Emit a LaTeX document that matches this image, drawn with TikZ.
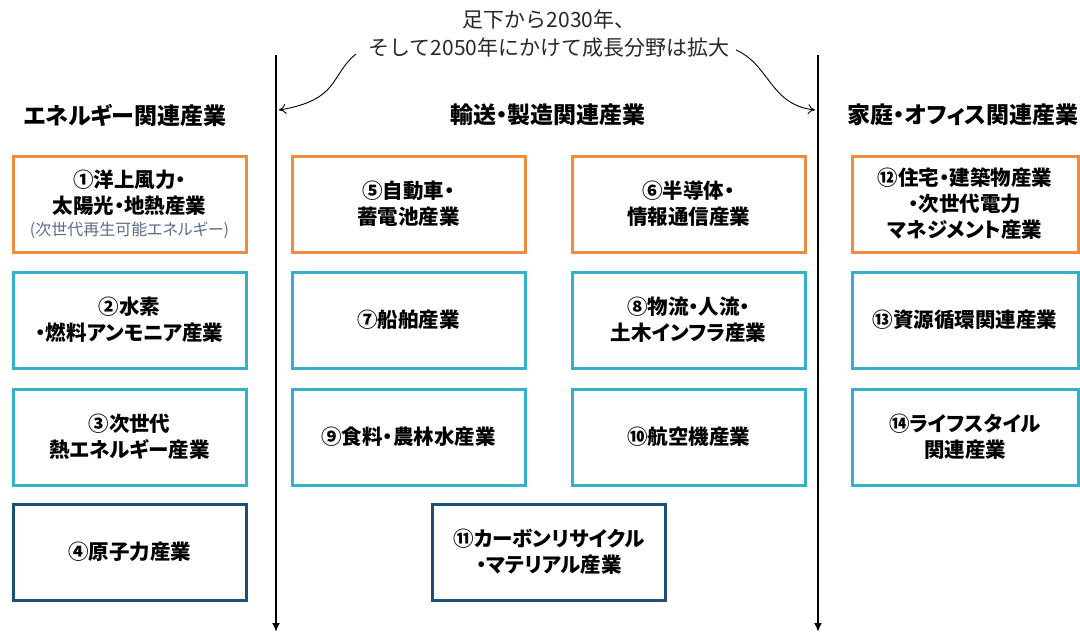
\documentclass[tikz,border=0pt]{standalone}
\usepackage{fontspec}
\setmainfont{Noto Sans CJK JP}[RawFeature=+palt]
\newfontfamily\plainjp{Noto Sans CJK JP}
\usetikzlibrary{arrows.meta}
\definecolor{cOrange}{RGB}{240,140,62}
\definecolor{cCyan}{RGB}{52,176,200}
\definecolor{cNavy}{RGB}{31,78,121}
\definecolor{cSub}{RGB}{90,110,140}
\definecolor{cTop}{RGB}{40,40,40}
\begin{document}
\begin{tikzpicture}[x=1pt,y=-1pt,
  box/.style={draw=#1,line width=3pt,fill=white,minimum width=233pt,minimum height=96pt,
    align=center,font=\fontsize{20.5}{26}\selectfont\bfseries,text=black,inner sep=0pt},
  head/.style={font=\fontsize{23}{26}\selectfont\bfseries,text=black},
  axis/.style={line width=2.6pt,-{Latex[length=9pt,width=8pt]}},
  curvy/.style={line width=0.9pt,-{To[length=7pt,width=10pt]}}]
\useasboundingbox (0,0) rectangle (1080,634);
% top text
\node[font=\plainjp\fontsize{21}{28}\selectfont,text=cTop,align=center] (top) at (549,34)
  {足下から2030年、\\そして2050年にかけて成長分野は拡大};
% vertical axes
\coordinate (La) at (276,55); \coordinate (Lb) at (276,632);
\coordinate (Ra) at (818,55); \coordinate (Rb) at (818,632);
\draw[axis] (La) -- (Lb);
\draw[axis] (Ra) -- (Rb);
% curved arrows
\coordinate (cl0) at (356,54); \coordinate (cl1) at (279,110);
\coordinate (cr0) at (736,50); \coordinate (cr1) at (815,110);
\draw[curvy] (cl0) .. controls (330,75) and (340,100) .. (cl1);
\draw[curvy] (cr0) .. controls (770,65) and (770,105) .. (cr1);
% headers
\node[head] (h1) at (125,115) {エネルギー関連産業};
\node[head] (h2) at (548,115) {輸送・製造関連産業};
\node[head] (h3) at (963,115) {家庭・オフィス関連産業};
% left column
\node[box=cOrange] (b1) at (129.5,204) {①洋上風力・\\太陽光・地熱産業\\[-4pt]{\fontsize{16}{17}\selectfont\mdseries\color{cSub}(次世代再生可能エネルギー)}};
\node[box=cCyan] (b2) at (129.5,320) {②水素\\・燃料アンモニア産業};
\node[box=cCyan] (b3) at (129.5,437) {③次世代\\熱エネルギー産業};
\node[box=cNavy] (b4) at (129.5,552) {④原子力産業};
% middle columns
\node[box=cOrange] (b5) at (408.5,204) {⑤自動車・\\蓄電池産業};
\node[box=cOrange] (b6) at (688.5,204) {⑥半導体・\\情報通信産業};
\node[box=cCyan] (b7) at (408.5,320) {⑦船舶産業};
\node[box=cCyan] (b8) at (688.5,320) {⑧物流・人流・\\土木インフラ産業};
\node[box=cCyan] (b9) at (408.5,437) {⑨食料・農林水産業};
\node[box=cCyan] (b10) at (688.5,437) {⑩航空機産業};
\node[box=cNavy] (b11) at (549,552) {⑪カーボンリサイクル\\・マテリアル産業};
% right column
\node[box=cOrange,minimum width=226pt] (b12) at (965,204) {⑫住宅・建築物産業\\・次世代電力\\マネジメント産業};
\node[box=cCyan,minimum width=226pt] (b13) at (965,320) {⑬資源循環関連産業};
\node[box=cCyan,minimum width=226pt] (b14) at (965,437) {⑭ライフスタイル\\関連産業};
\end{tikzpicture}
\end{document}
